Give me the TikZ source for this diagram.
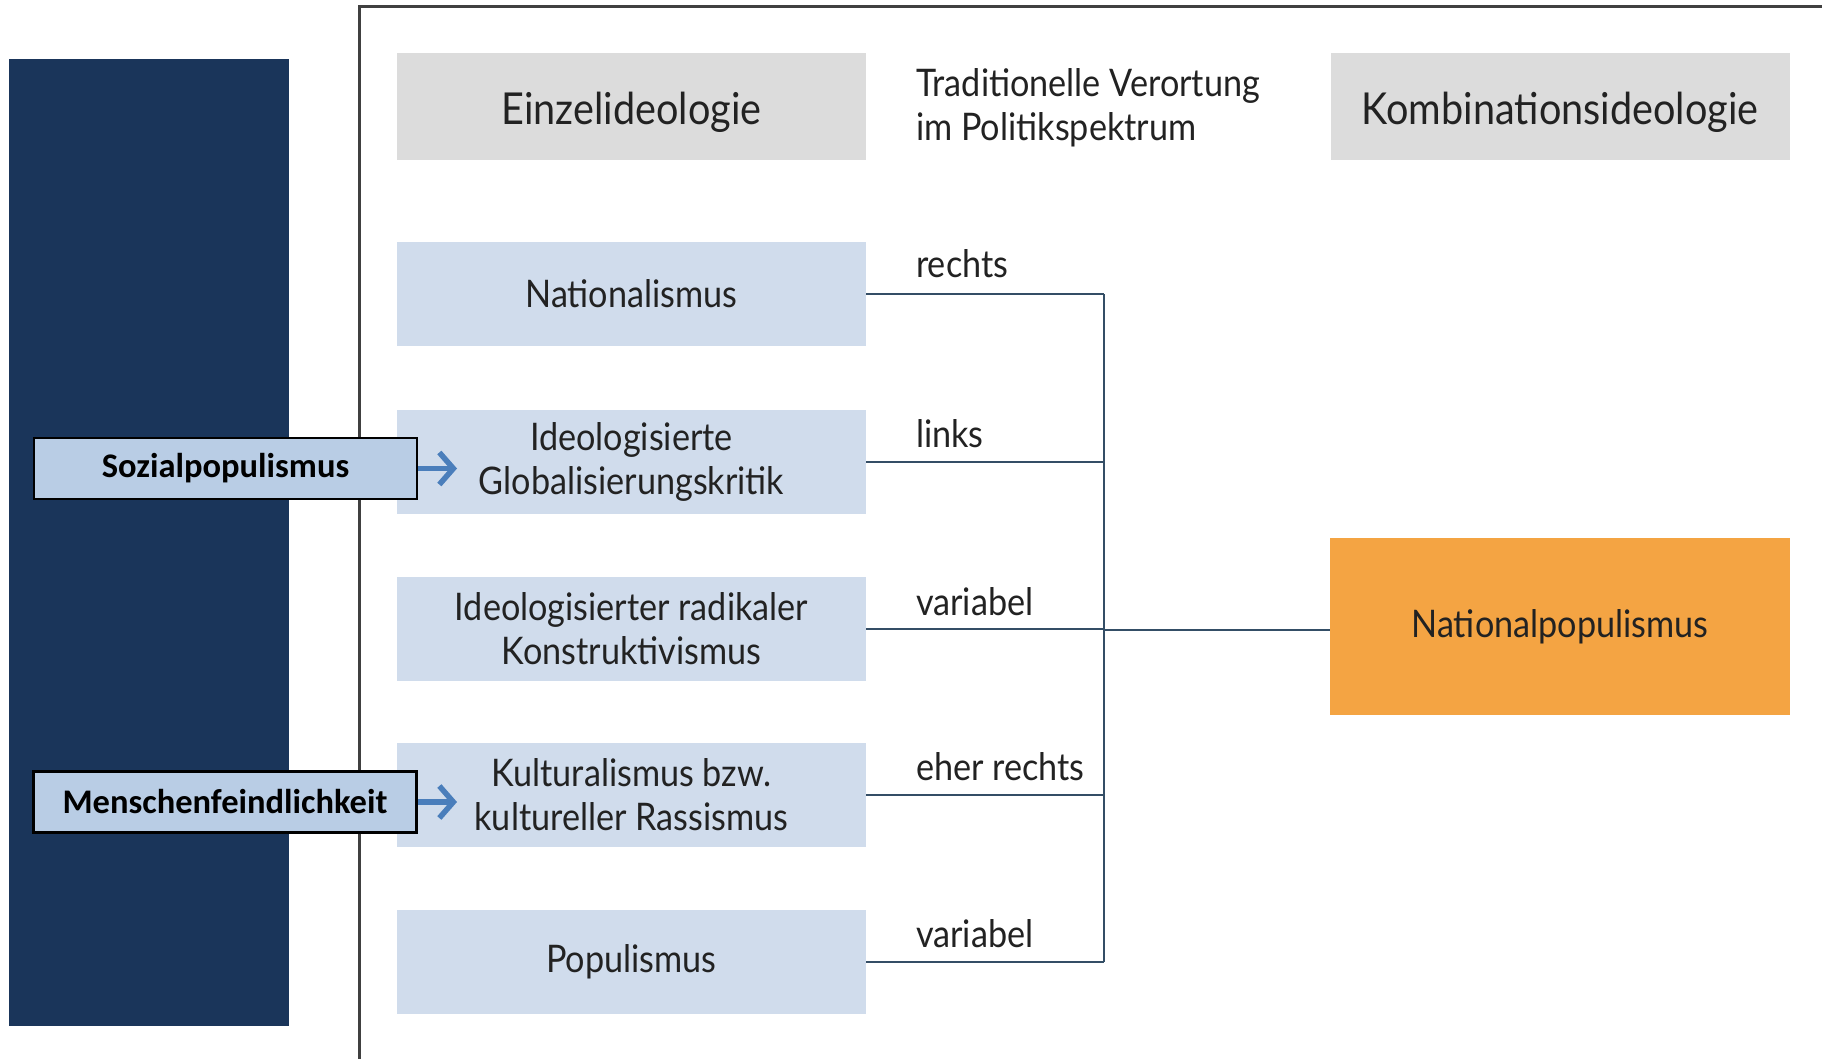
\documentclass[tikz,border=0pt]{standalone}
\usepackage{fontspec}
\setmainfont{Lato}[FakeStretch=0.9]
\newfontfamily\calib{Carlito}
\usetikzlibrary{arrows.meta}
\definecolor{navy}{RGB}{26,53,90}
\definecolor{hdrgrey}{RGB}{220,220,220}
\definecolor{ideoblue}{RGB}{208,220,236}
\definecolor{sidefill}{RGB}{185,205,229}
\definecolor{orng}{RGB}{244,164,67}
\definecolor{linec}{RGB}{52,78,102}
\definecolor{arrc}{RGB}{74,126,187}
\definecolor{txt}{RGB}{34,34,34}
\begin{document}
\begin{tikzpicture}[x=1pt,y=-1pt,
  hdr/.style={fill=hdrgrey, minimum width=469pt, minimum height=107pt, inner sep=0pt, text=txt, text height=38pt, text depth=2pt, font=\fontsize{44}{50}\selectfont},
  ideo/.style={fill=ideoblue, minimum width=469pt, minimum height=104pt, inner sep=0pt, align=center, text=txt, font=\fontsize{38}{44}\selectfont},
  lbl/.style={anchor=base west, inner sep=0pt, text=txt, font=\fontsize{38}{44}\selectfont},
  side/.style={fill=sidefill, draw=black, line width=2.5pt, minimum width=383pt, minimum height=61pt, inner sep=0pt, font=\calib\bfseries\fontsize{34.5}{40}\selectfont},
  conn/.style={draw=linec, line width=2pt},
  sarrow/.style={draw=arrc, line width=5.5pt, -{Straight Barb[length=14pt,width=32pt,line width=5.5pt]}}
]
\useasboundingbox (0,0) rectangle (1822,1059);
\fill[white] (0,0) rectangle (1822,1059);
% dark side panel
\fill[navy] (9,59) rectangle (289,1026);
% frame
\draw[line width=3pt, black!75] (359,1059) -- (359,7) -- (1822,7);
% headers
\node[hdr] (h1) at (631.5,106.5) {Einzelideologie};
\node[anchor=north west, inner sep=0pt, align=left, text=txt, font=\fontsize{38}{44}\selectfont] (h2) at (916,68) {Traditionelle Verortung\\im Politikspektrum};
\node[hdr, minimum width=459pt] (h3) at (1560,106.5) {Kombinationsideologie};
% ideology boxes
\node[ideo] (n1) at (631.5,294) {Nationalismus};
\node[ideo] (n2) at (631.5,461.5) {Ideologisierte\\Globalisierungskritik};
\node[ideo] (n3) at (631.5,628.5) {Ideologisierter radikaler\\Konstruktivismus};
\node[ideo] (n4) at (631.5,794.5) {Kulturalismus bzw.\\kultureller Rassismus};
\node[ideo] (n5) at (631.5,962) {Populismus};
% result
\node[fill=orng, minimum width=460pt, minimum height=177pt, inner sep=0pt, text=txt, font=\fontsize{38}{44}\selectfont] (np) at (1560,626.5) {Nationalpopulismus};
% connectors
\coordinate (j) at (1104,630);
\draw[conn] (n1.east) -- (n1.east -| j);
\draw[conn] (n2.east) -- (n2.east -| j);
\draw[conn] (n3.east) -- (n3.east -| j);
\draw[conn] (n4.east) -- (n4.east -| j);
\draw[conn] (n5.east) -- (n5.east -| j);
\draw[conn] (n1.east -| j) -- (n5.east -| j);
\draw[conn] (j) -- (j -| np.west);
% labels
\node[lbl] (l1) at (916,277) {rechts};
\node[lbl] (l2) at (916,447) {links};
\node[lbl] (l3) at (916,615) {variabel};
\node[lbl] (l4) at (916,780) {eher rechts};
\node[lbl] (l5) at (916,947) {variabel};
% side boxes
\node[side] (s1) at (225.5,468.5) {Sozialpopulismus};
\node[side] (s2) at (225,802) {Menschenfeindlichkeit};
\coordinate (a1) at (457,468.5);
\coordinate (a2) at (457,802);
\draw[sarrow] (s1.east) -- (a1);
\draw[sarrow] (s2.east) -- (a2);
\end{tikzpicture}
\end{document}
